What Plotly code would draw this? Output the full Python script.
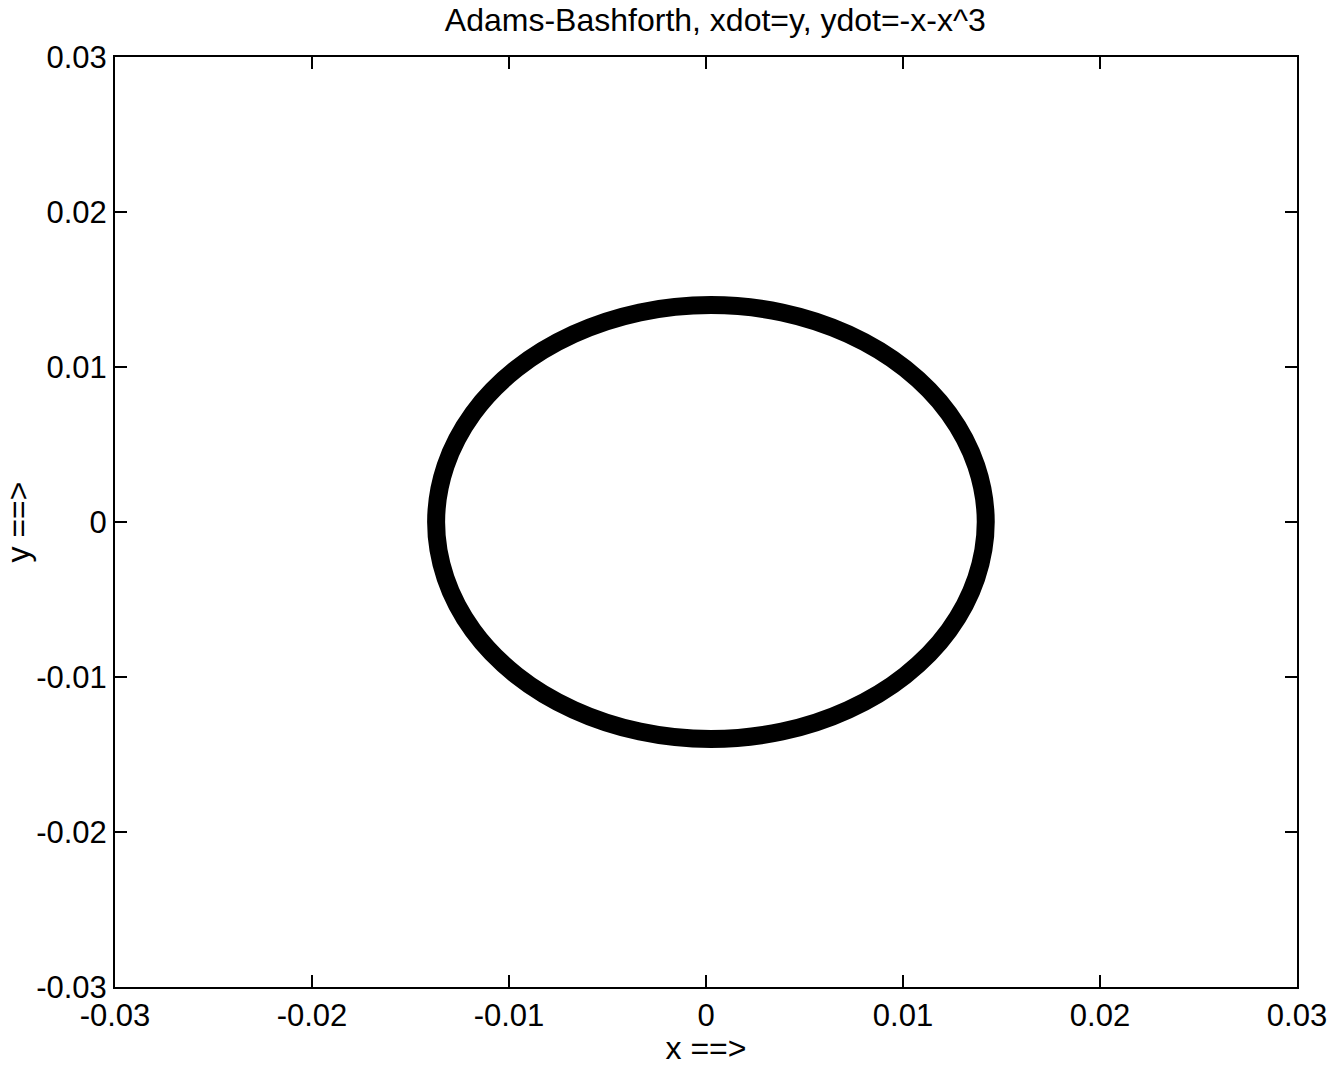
import plotly.graph_objects as go

# Trajectory points (centre line of the thick ring)
x_vals = [0.01420, 0.01372, 0.01233, 0.01011, 0.00722, 0.00386, 0.00025,
          -0.00336, -0.00672, -0.00961, -0.01183, -0.01322, -0.01370,
          -0.01322, -0.01183, -0.00961, -0.00672, -0.00336, 0.00025,
          0.00386, 0.00722, 0.01011, 0.01233, 0.01372, 0.01420]
y_vals = [0.0, 0.00362, 0.00700, 0.00990, 0.01212, 0.01352, 0.01400,
          0.01352, 0.01212, 0.00990, 0.00700, 0.00362, 0.0,
          -0.00362, -0.00700, -0.00990, -0.01212, -0.01352, -0.01400,
          -0.01352, -0.01212, -0.00990, -0.00700, -0.00362, 0.0]

tick_vals = [-0.03, -0.02, -0.01, 0, 0.01, 0.02, 0.03]
tick_text = ["-0.03", "-0.02", "-0.01", "0", "0.01", "0.02", "0.03"]

FONT = "Liberation Sans, Arial, sans-serif"

fig = go.Figure()
fig.add_trace(go.Scatter(
    x=x_vals, y=y_vals, mode="lines",
    line=dict(color="black", width=18, shape="spline"),
    showlegend=False, hoverinfo="skip"))

axis_common = dict(
    range=[-0.03, 0.03], tickvals=tick_vals, ticktext=tick_text,
    showgrid=False, zeroline=False, showline=True, mirror="ticks",
    linecolor="black", linewidth=2, ticks="inside", ticklen=12,
    tickwidth=2, tickcolor="black", automargin=False,
    tickfont=dict(family=FONT, size=31, color="black"),
)

fig.update_layout(
    width=1337, height=1066,
    margin=dict(l=115, r=40, t=57, b=79),
    paper_bgcolor="white", plot_bgcolor="white",
    title=dict(text="Adams-Bashforth, xdot=y, ydot=-x-x^3",
               x=0.535, xanchor="center", y=0.981, yanchor="middle",
               font=dict(family=FONT, size=32, color="black")),
    xaxis=dict(**axis_common,
               title=dict(text="x ==>", standoff=0,
                          font=dict(family=FONT, size=32, color="black"))),
    yaxis=dict(**axis_common,
               title=dict(text="y ==>", standoff=8,
                          font=dict(family=FONT, size=32, color="black"))),
)

fig.write_html("out.html")
